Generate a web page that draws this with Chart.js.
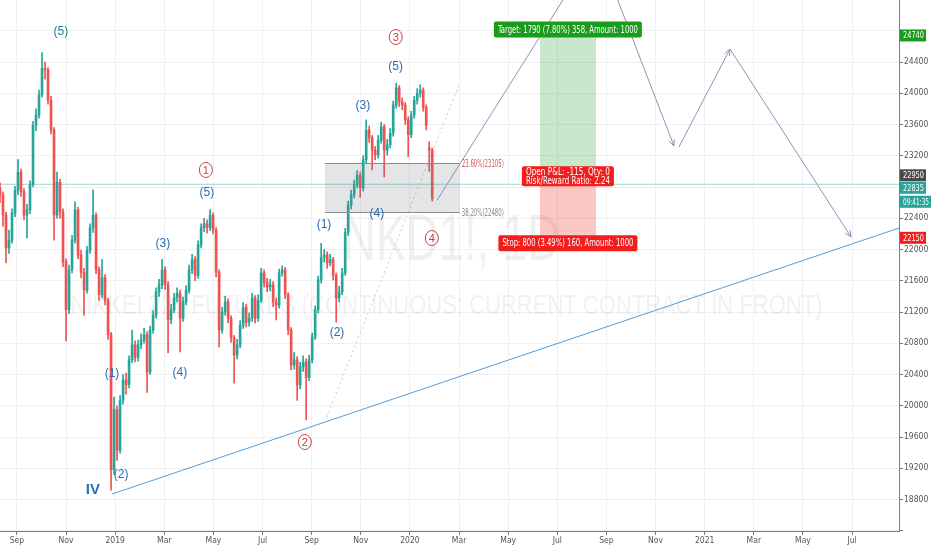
<!DOCTYPE html>
<html lang="en">
<head>
<meta charset="UTF-8">
<title>NKD1!, 1D</title>
<script src="https://cdn.jsdelivr.net/npm/chart.js"></script>
<style>
    html, body { margin: 0; padding: 0; background: #fff; }
    #wrap { width: 932px; height: 550px; }
</style>
</head>
<body>
<div id="wrap"><canvas id="chart" width="932" height="550"></canvas></div>
<script>
// candles, oldest first (one bar ~ every 3 trading days, Aug 2018 .. Jan 2020)
const barOpen = [
    22780,22700,22440,22020,22120,22470,22760,22990,22740,22440,
    22510,22830,23590,23720,23980,24320,24300,23910,23530,22440,
    22860,22480,21840,21230,21740,22120,22510,21930,21710,21480,
    21990,22280,22440,21740,21420,21640,21350,20910,19180,19950,
    19430,20070,20330,20270,20590,20780,20620,20780,20840,20910,
    20430,20970,21160,21460,21550,21740,21550,21100,21230,21380,
    21440,21120,21330,21480,21740,21870,21670,22060,22280,22330,
    22280,22440,22250,21710,20970,21200,21330,21120,20870,20650,
    20780,21030,21260,21070,21120,21380,21120,21350,21700,21580,
    21520,21550,21330,21290,21700,21740,21420,20970,20520,20590,
    20270,20500,20560,20360,20590,20880,21230,21610,21900,21930,
    21830,21870,21670,21380,21460,21700,22220,22570,22700,22830,
    22950,22790,23150,23530,23430,23270,23210,23400,23570,23270,
    23340,23490,23850,24070,23890,23850,23660,23470,23720,23910,
    24000,24040,23820,23300,23270];
const barHigh = [
    22850,22740,22480,22250,22520,22810,23150,23030,22780,22580,
    22880,23640,23800,24040,24520,24400,24330,23960,23560,22990,
    22900,22520,21880,21800,22180,22610,22540,21990,21760,22040,
    22330,22760,22470,21780,21870,21680,21380,20940,20110,20000,
    20130,20400,20420,20640,20970,20830,20840,20920,20990,20950,
    21020,21220,21510,21620,21870,21780,21590,21300,21440,21510,
    21480,21390,21540,21800,21940,21910,22110,22330,22400,22380,
    22510,22470,22280,21740,21260,21400,21370,21150,20900,20850,
    21090,21320,21300,21190,21440,21410,21420,21760,21740,21630,
    21620,21590,21380,21750,21790,21770,21450,21000,20680,20630,
    20560,20640,20600,20650,20930,21280,21660,22080,22000,21970,
    21940,21900,21700,21530,21760,22270,22620,22760,22890,23010,
    22990,23200,23660,23580,23460,23320,23460,23630,23600,23410,
    23550,23900,24130,24100,23940,23880,23700,23770,23960,24060,
    24110,24070,23850,23380,23300];
const barLow = [
    22600,22300,21830,21950,22080,22420,22700,22680,22380,22150,
    22460,22800,23520,23680,23950,24180,23860,23480,22120,22400,
    22400,21780,20830,21180,21700,22080,21880,21640,21160,21440,
    21950,22220,21690,21350,21380,21290,20850,18920,19120,19300,
    19390,20020,20150,20230,20550,20560,20570,20730,20800,20170,
    20400,20930,21120,21400,21500,21490,20680,21050,21190,21330,
    20690,21080,21290,21440,21690,21600,21630,22020,22230,22210,
    22240,22200,21650,20750,20930,21160,21060,20810,20290,20600,
    20740,20990,21010,21020,21080,21060,21080,21320,21520,21460,
    21470,21270,21100,21250,21660,21370,20910,20460,20470,20070,
    20220,20440,19820,20320,20550,20850,21190,21570,21840,21760,
    21790,21610,21070,21330,21420,21670,22180,22520,22660,22790,
    22670,22750,23110,23370,23020,23150,23170,23360,22930,23210,
    23300,23450,23810,23830,23790,23600,23190,23430,23680,23860,
    23950,23770,23530,23000,22620];
const barClose = [
    22700,22440,22020,22120,22470,22760,22990,22740,22440,22510,
    22830,23590,23720,23980,24320,24300,23910,23530,22440,22860,
    22480,21840,21230,21740,22120,22510,21930,21710,21480,21990,
    22280,22440,21740,21420,21640,21350,20910,19180,19950,19430,
    20070,20330,20270,20590,20780,20620,20780,20840,20910,20430,
    20970,21160,21460,21550,21740,21550,21100,21230,21380,21440,
    21120,21330,21480,21740,21870,21670,22060,22280,22330,22280,
    22440,22250,21710,20970,21200,21330,21120,20870,20650,20780,
    21030,21260,21070,21120,21380,21120,21350,21700,21580,21520,
    21550,21330,21290,21700,21740,21420,20970,20520,20590,20270,
    20500,20560,20360,20590,20880,21230,21610,21900,21930,21830,
    21870,21670,21380,21460,21700,22220,22570,22700,22830,22950,
    22790,23150,23530,23430,23270,23210,23400,23570,23270,23340,
    23490,23850,24070,23890,23850,23660,23470,23720,23910,24000,
    24040,23820,23590,23270,22650];

// x axis is in months, 0 = Jan 2019
const firstBarMonth = -4.69;
const barStepMonth = 0.1222;
const xMin = -4.69, xMax = 31.91;
const yMin = 18397, yMax = 25194;

const xTickMonths = [-4, -2, 0, 2, 4, 6, 8, 10, 12, 14, 16, 18, 20, 22, 24, 26, 28, 30];
const xTickLabels = ['Sep','Nov','2019','Mar','May','Jul','Sep','Nov','2020','Mar','May','Jul','Sep','Nov','2021','Mar','May','Jul'];
const yTicks = [18400,18800,19200,19600,20000,20400,20800,21200,21600,22000,22400,22800,23200,23600,24000,24400,24800];
const yHidden = [18400, 22800, 24800];   // covered by the price badges

// drawings
const lastPrice = 22835;
const trendLine = [[-0.13, 18870], [31.91, 22275]];
const dottedLine = [[8.61, 19856], [14.03, 24131]];
const projUp = [[13.10, 22630], [19.61, 25885], [22.75, 23325]];
const projDown = [[22.95, 23312], [25.03, 24566], [29.96, 22160]];
const fibStart = 8.54, fibEnd = 14.03, fibHigh = 23105, fibLow = 22480;
const posStart = 17.29, posEnd = 19.57, posEntry = 22950, posTarget = 24740, posStop = 22150;

const waveLabels = [
    ['(5)', -2.21, 24784, 'teal'], ['(5)', 3.73, 22723, 'blue'], ['(3)', 1.94, 22070, 'blue'],
    ['(1)', -0.13, 20407, 'blue'], ['(4)', 2.63, 20419, 'blue'], ['(2)', 0.24, 19114, 'blue'],
    ['IV', -0.91, 18922, 'big'], ['(1)', 8.50, 22314, 'blue'], ['(2)', 9.03, 20931, 'blue'],
    ['(3)', 10.08, 23837, 'blue'], ['(5)', 11.42, 24336, 'blue'], ['(4)', 10.65, 22454, 'blue']
];
const circleLabels = [['1', 3.69, 23018], ['2', 7.72, 19536], ['3', 11.42, 24720], ['4', 12.89, 22147]];

const UP = '#26a69a', DOWN = '#ef5350';
const narrow = "'Liberation Sans Narrow', 'DejaVu Sans Condensed', 'Liberation Sans', sans-serif";
const gridColor = '#edf0f4';

const candleColors = barClose.map((c, i) => c >= barOpen[i] ? UP : DOWN);
const barX = barClose.map((c, i) => firstBarMonth + i * barStepMonth);

function pts(list) { return list.map(p => ({x: p[0], y: p[1]})); }

// draws text squeezed to a given width
function squeezeText(ctx, text, x, y, width, align) {
    const w = ctx.measureText(text).width;
    const k = Math.min(1, width / w);
    ctx.save();
    ctx.translate(x, y);
    ctx.scale(k, 1);
    ctx.textAlign = align;
    ctx.fillText(text, 0, 0);
    ctx.restore();
}

function fitText(ctx, text, cx, base, width, font) {
    ctx.font = font;
    const w = ctx.measureText(text).width;
    ctx.save();
    ctx.translate(cx, base);
    ctx.scale(width / w, 1);
    ctx.textAlign = 'center';
    ctx.fillText(text, 0, 0);
    ctx.restore();
}

function tag(ctx, lines, cx, cy, w, h, bg) {
    ctx.fillStyle = bg;
    ctx.beginPath();
    ctx.roundRect(cx - w / 2, cy - h / 2, w, h, 2);
    ctx.fill();
    ctx.font = '10px ' + narrow;
    ctx.fillStyle = '#fff';
    ctx.textBaseline = 'middle';
    lines.forEach((l, i) => squeezeText(ctx, l, cx, cy - (lines.length - 1) * 4.5 + i * 9 + 0.5, w - 8, 'center'));
}

function badge(ctx, text, left, cy, w, bg) {
    ctx.fillStyle = bg;
    ctx.fillRect(left, cy - 6, w, 12);
    ctx.font = '9px ' + narrow;
    ctx.fillStyle = '#fff';
    ctx.textBaseline = 'middle';
    squeezeText(ctx, text, left + 3, cy + 0.5, w - 5, 'left');
}

function arrowHead(ctx, x1, y1, x2, y2) {
    const a = Math.atan2(y2 - y1, x2 - x1);
    ctx.beginPath();
    ctx.moveTo(x2 - 7 * Math.cos(a - 0.4), y2 - 7 * Math.sin(a - 0.4));
    ctx.lineTo(x2, y2);
    ctx.lineTo(x2 - 7 * Math.cos(a + 0.4), y2 - 7 * Math.sin(a + 0.4));
    ctx.stroke();
}

const drawings = {
    id: 'drawings',
    beforeDatasetsDraw(chart) {
        const {ctx, chartArea: a, scales: {x, y}} = chart;
        ctx.save();
        ctx.beginPath();
        ctx.rect(a.left, a.top, a.right - a.left, a.bottom - a.top);
        ctx.clip();
        // watermark
        ctx.fillStyle = 'rgba(0,0,0,0.06)';
        const cx = (a.left + a.right) / 2;
        fitText(ctx, 'NKD1!, 1D', cx + 2, a.top + 260, 217, "64px 'Liberation Sans', sans-serif");
        fitText(ctx, 'NIKKEI 225 FUTURES (CONTINUOUS: CURRENT CONTRACT IN FRONT)', cx - 3, a.top + 314, 752, "28px 'Liberation Sans', sans-serif");
        // long position zones
        const l = x.getPixelForValue(posStart), r = x.getPixelForValue(posEnd);
        ctx.fillStyle = 'rgba(76,175,80,0.3)';
        ctx.fillRect(l, y.getPixelForValue(posTarget), r - l, y.getPixelForValue(posEntry) - y.getPixelForValue(posTarget));
        ctx.fillStyle = 'rgba(244,67,54,0.3)';
        ctx.fillRect(l, y.getPixelForValue(posEntry), r - l, y.getPixelForValue(posStop) - y.getPixelForValue(posEntry));
        ctx.restore();
    },
    afterDatasetsDraw(chart) {
        const {ctx, scales: {x, y}} = chart;
        ctx.save();
        // fib zone
        const fl = x.getPixelForValue(fibStart), fr = x.getPixelForValue(fibEnd);
        const ft = y.getPixelForValue(fibHigh), fb = y.getPixelForValue(fibLow);
        ctx.fillStyle = 'rgba(120,123,134,0.2)';
        ctx.fillRect(fl, ft, fr - fl, fb - ft);
        ctx.lineWidth = 1;
        ctx.strokeStyle = '#d26a6a';
        ctx.beginPath(); ctx.moveTo(fl, Math.round(ft) + 0.5); ctx.lineTo(fr, Math.round(ft) + 0.5); ctx.stroke();
        ctx.strokeStyle = '#8d8d8d';
        ctx.beginPath(); ctx.moveTo(fl, Math.round(fb) + 0.5); ctx.lineTo(fr, Math.round(fb) + 0.5); ctx.stroke();
        ctx.font = '10px ' + narrow;
        ctx.textBaseline = 'middle';
        ctx.fillStyle = '#d25a5a';
        squeezeText(ctx, '23.60%(' + fibHigh + ')', fr + 2, ft + 1, 42, 'left');
        ctx.fillStyle = '#8a8a8a';
        squeezeText(ctx, '38.20%(' + fibLow + ')', fr + 2, fb + 1, 42, 'left');

        // projection arrow heads
        ctx.strokeStyle = '#8e93b5';
        const P = p => [x.getPixelForValue(p[0]), y.getPixelForValue(p[1])];
        arrowHead(ctx, ...P(projUp[1]), ...P(projUp[2]));
        arrowHead(ctx, ...P(projDown[0]), ...P(projDown[1]));
        arrowHead(ctx, ...P(projDown[1]), ...P(projDown[2]));

        // wave labels
        ctx.textAlign = 'center'; ctx.textBaseline = 'middle';
        waveLabels.forEach(([t, m, p, kind]) => {
            ctx.font = kind === 'big' ? "bold 15px 'Liberation Sans', sans-serif" : "12px 'Liberation Sans', sans-serif";
            ctx.fillStyle = kind === 'teal' ? '#1f7f8a' : '#2a6db2';
            ctx.fillText(t, x.getPixelForValue(m), y.getPixelForValue(p));
        });
        circleLabels.forEach(([t, m, p]) => {
            const px = x.getPixelForValue(m), py = y.getPixelForValue(p);
            ctx.strokeStyle = '#d43c3c'; ctx.fillStyle = '#d43c3c';
            ctx.beginPath(); ctx.ellipse(px, py, 6.5, 7.5, 0, 0, Math.PI * 2); ctx.stroke();
            ctx.font = "11px 'Liberation Sans', sans-serif";
            ctx.fillText(t, px, py + 0.5);
        });
        ctx.restore();
    },
    afterDraw(chart) {
        const {ctx, chartArea: a, scales: {x, y}} = chart;
        ctx.save();
        const cx = (x.getPixelForValue(posStart) + x.getPixelForValue(posEnd)) / 2;
        tag(ctx, ['Target: 1790 (7.80%) 358, Amount: 1000'], cx, y.getPixelForValue(posTarget) - 6, 148, 16, '#1b9b1b');
        tag(ctx, ['Open P&L: -115, Qty: 0', 'Risk/Reward Ratio: 2.24'], cx, y.getPixelForValue(posEntry) + 1, 92, 20, '#f21d1d');
        tag(ctx, ['Stop: 800 (3.49%) 160, Amount: 1000'], cx, y.getPixelForValue(posStop) + 5.5, 139, 16, '#f21d1d');

        const left = a.right + 1;
        badge(ctx, String(posTarget), left, y.getPixelForValue(posTarget), 26, '#1b9b1b');
        badge(ctx, String(posEntry), left, y.getPixelForValue(posEntry), 26, '#4a4a4a');
        badge(ctx, String(lastPrice), left, y.getPixelForValue(lastPrice) + 3.5, 26, '#26a69a');
        badge(ctx, '09:41:35', left, y.getPixelForValue(lastPrice) + 17.5, 31, '#26a69a');
        badge(ctx, String(posStop), left, y.getPixelForValue(posStop), 26, '#f21d1d');
        ctx.restore();
    }
};

const lineStyle = {type: 'line', pointRadius: 0, borderWidth: 1, fill: false, tension: 0};

new Chart(document.getElementById('chart'), {
    type: 'bar',
    data: {
        datasets: [
            {
                data: barX.map((m, i) => ({x: m, y: [barOpen[i], barClose[i]]})),
                backgroundColor: candleColors, barThickness: 2, grouped: false, minBarLength: 1
            },
            {
                data: barX.map((m, i) => ({x: m, y: [barLow[i], barHigh[i]]})),
                backgroundColor: candleColors, barThickness: 1, grouped: false
            },
            {...lineStyle, data: pts([[xMin, lastPrice], [xMax, lastPrice]]), borderColor: '#9fd5cf'},
            {...lineStyle, data: pts(trendLine), borderColor: '#4f9ddb'},
            {...lineStyle, data: pts(dottedLine), borderColor: '#c9c9c9', borderDash: [2, 3]},
            {...lineStyle, data: pts(projUp), borderColor: '#8e93b5'},
            {...lineStyle, data: pts(projDown), borderColor: '#8e93b5'}
        ]
    },
    options: {
        responsive: false,
        animation: false,
        layout: {padding: 0},
        plugins: {legend: {display: false}, tooltip: {enabled: false}},
        scales: {
            x: {
                type: 'linear', min: xMin, max: xMax, offset: false,
                afterBuildTicks: s => { s.ticks = xTickMonths.map(v => ({value: v})); },
                ticks: {
                    callback: (v, i) => xTickLabels[i],
                    color: '#555', font: {family: narrow, size: 8.5},
                    maxRotation: 0, autoSkip: false, padding: 1
                },
                grid: {color: gridColor, tickColor: '#787b86', tickLength: 4, offset: false},
                border: {color: '#787b86'},
                afterFit: s => { s.height = 19; s.paddingLeft = 0; s.paddingRight = 0; }
            },
            y: {
                position: 'right', min: yMin, max: yMax,
                afterBuildTicks: s => { s.ticks = yTicks.map(v => ({value: v})); },
                ticks: {
                    callback: v => (yHidden.includes(v) ? '' : String(v)),
                    color: '#555', font: {family: narrow, size: 8.5}, padding: 1
                },
                grid: {color: gridColor, tickColor: '#787b86', tickLength: 4},
                border: {color: '#787b86'},
                afterFit: s => { s.width = 33; s.paddingTop = 0; s.paddingBottom = 0; }
            }
        }
    },
    plugins: [drawings]
});
</script>
</body>
</html>
